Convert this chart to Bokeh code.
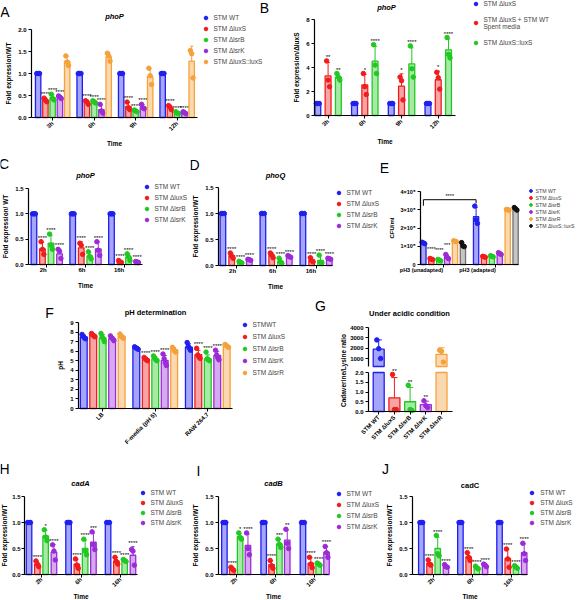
import numpy as np
from math import pi
from bokeh.plotting import figure
from bokeh.models import (Range1d, FixedTicker, Legend, LegendItem, Label, LinearAxis,
                          NumeralTickFormatter)
from bokeh.layouts import column, row
from bokeh.embed import file_html
from bokeh.resources import INLINE
from bokeh.core.properties import value

FONT = "Liberation Sans"
BLUE = "#1f1fef"
RED = "#f01c1c"
GREEN = "#22c822"
PURPLE = "#9b2bd6"
ORANGE = "#f6a13a"
GREY = "#707070"
BLACK = "#111111"

# ---------------- data ----------------
A_groups = ["3h", "6h", "9h", "12h"]
A_series = ["STM WT", "STM ΔluxS", "STM ΔlsrB", "STM ΔlsrK", "STM ΔluxS::luxS"]
A_means = [[1.00, 1.00, 1.00, 1.00],
           [0.40, 0.35, 0.25, 0.23],
           [0.45, 0.36, 0.15, 0.11],
           [0.46, 0.18, 0.24, 0.11],
           [1.28, 1.38, 0.93, 1.28]]
A_points = [[[1.0, 1.0, 1.0], [1.0, 1.0, 1.0], [1.0, 1.0, 1.0], [1.0, 1.0, 1.0]],
            [[0.44, 0.40, 0.36], [0.38, 0.36, 0.30], [0.35, 0.22, 0.18], [0.27, 0.24, 0.18]],
            [[0.53, 0.43, 0.40], [0.38, 0.36, 0.33], [0.17, 0.15, 0.13], [0.13, 0.10, 0.09]],
            [[0.49, 0.46, 0.43], [0.30, 0.15, 0.10], [0.30, 0.22, 0.20], [0.13, 0.11, 0.09]],
            [[1.40, 1.26, 1.18], [1.46, 1.40, 1.28], [1.12, 0.95, 0.75], [1.52, 1.45, 0.90]]]
A_stars = [["", "", "", ""], ["****"] * 4, ["****"] * 4, ["****"] * 4, ["", "", "", ""]]

B_groups = ["3h", "6h", "9h", "12h"]
B_series = ["STM ΔluxS", "STM ΔluxS + STM WT\nSpent media", "STM ΔluxS::luxS"]
B_means = [[1.0, 1.0, 1.0, 1.0],
           [3.30, 2.55, 2.45, 2.98],
           [3.20, 4.53, 4.30, 5.47]]
B_points = [[[1.0, 1.0, 1.0], [1.0, 1.0, 1.0], [1.0, 1.0, 1.0], [1.0, 1.0, 1.0]],
            [[4.55, 2.95, 2.40], [3.50, 2.40, 1.75], [3.20, 2.90, 1.30], [3.60, 3.15, 2.20]],
            [[3.50, 3.20, 2.95], [5.90, 4.20, 3.50], [5.80, 3.90, 3.20], [6.50, 5.10, 4.80]]]
B_stars = [["", "", "", ""], ["**", "*", "*", "*"], ["**", "****", "****", "****"]]

T_groups = ["2h", "6h", "16h"]
T_series = ["STM WT", "STM ΔluxS", "STM ΔlsrB", "STM ΔlsrK"]
WT3 = [[1.0, 1.0, 1.0], [1.0, 1.0, 1.0], [1.0, 1.0, 1.0]]

C_means = [[1.0, 1.0, 1.0], [0.31, 0.33, 0.06], [0.42, 0.17, 0.15], [0.21, 0.31, 0.05]]
C_points = [WT3,
            [[0.45, 0.30, 0.20], [0.42, 0.38, 0.20], [0.08, 0.05, 0.04]],
            [[0.60, 0.38, 0.30], [0.25, 0.16, 0.11], [0.21, 0.15, 0.08]],
            [[0.30, 0.26, 0.12], [0.45, 0.28, 0.18], [0.06, 0.05, 0.04]]]
C_stars = [["", "", ""], ["****"] * 3, ["****"] * 3, ["****"] * 3]

D_means = [[1.0, 1.0, 1.0], [0.19, 0.20, 0.11], [0.065, 0.08, 0.10], [0.11, 0.17, 0.13]]
D_points = [WT3,
            [[0.24, 0.18, 0.14], [0.24, 0.20, 0.15], [0.15, 0.09, 0.07]],
            [[0.08, 0.06, 0.05], [0.14, 0.07, 0.04], [0.20, 0.06, 0.05]],
            [[0.12, 0.11, 0.10], [0.19, 0.17, 0.16], [0.14, 0.13, 0.12]]]
D_stars = [["", "", ""], ["****"] * 3, ["****"] * 3, ["****"] * 3]

E_groups = ["pH3 (unadapted)", "pH3 (adapted)"]
E_series = ["STM WT", "STM ΔluxS", "STM ΔlsrB", "STM ΔlsrK", "STM ΔlsrR", "STM ΔluxS::luxS"]
E_means = [[1.18e8, 2.62e8], [0.30e8, 0.42e8], [0.24e8, 0.45e8],
           [0.42e8, 0.60e8], [1.27e8, 3.00e8], [1.06e8, 3.05e8]]
E_points = [[[1.22e8, 1.18e8, 1.14e8], [3.20e8, 2.45e8, 2.25e8]],
            [[0.33e8, 0.29e8, 0.27e8], [0.45e8, 0.42e8, 0.40e8]],
            [[0.28e8, 0.24e8, 0.21e8], [0.48e8, 0.45e8, 0.42e8]],
            [[0.55e8, 0.40e8, 0.32e8], [0.65e8, 0.60e8, 0.55e8]],
            [[1.30e8, 1.27e8, 1.25e8], [3.02e8, 3.00e8, 2.98e8]],
            [[1.20e8, 1.02e8, 0.98e8], [3.12e8, 3.05e8, 2.98e8]]]
E_stars = [["", ""], ["****", ""], ["****", ""], ["***", ""], ["", ""], ["", ""]]
E_bracket_star = "****"

F_groups = ["LB", "F-media (pH 5)", "RAW 264.7"]
F_series = ["STMWT", "STM ΔluxS", "STM ΔlsrB", "STM ΔlsrK", "STM ΔlsrR"]
F_means = [[7.49, 6.33, 6.43], [7.67, 5.20, 5.63], [7.38, 5.20, 5.20],
           [7.31, 5.03, 5.55], [7.56, 6.15, 6.54]]
F_points = [[[7.75, 7.55, 7.40, 7.30], [6.45, 6.35, 6.30, 6.20], [6.90, 6.50, 6.30, 6.10]],
            [[7.85, 7.70, 7.60, 7.50], [5.35, 5.20, 5.10, 5.00], [6.30, 5.60, 5.40, 5.25]],
            [[7.85, 7.50, 7.30, 7.00], [5.50, 5.30, 5.10, 5.00], [5.90, 5.20, 5.10, 5.00]],
            [[7.60, 7.40, 7.30, 7.10], [5.70, 5.20, 4.80, 4.50], [6.10, 5.60, 5.30, 5.10]],
            [[7.80, 7.55, 7.45, 7.35], [6.40, 6.20, 6.00, 5.90], [6.70, 6.60, 6.50, 6.40]]]
F_stars = [["", "", ""], ["", "****", "****"], ["", "****", "****"], ["", "****", "****"], ["", "", ""]]

G_cats = ["STM WT", "STM ΔluxS", "STM ΔlsrB", "STM ΔlsrK", "STM ΔlsrR"]
G_means = [1900.0, 0.70, 0.50, 0.35, 1400.0]
G_points = [[2800.0, 1950.0, 1000.0], [1.90, 0.10, 0.10], [1.35, 0.10, 0.05],
            [0.55, 0.30, 0.20], [1800.0, 1700.0, 650.0]]
G_stars = ["", "**", "**", "**", ""]

H_means = [[1.0, 1.0, 1.0], [0.20, 0.20, 0.26], [0.74, 0.50, 0.27], [0.43, 0.62, 0.37]]
H_points = [WT3,
            [[0.26, 0.20, 0.15], [0.30, 0.18, 0.12], [0.33, 0.25, 0.20]],
            [[0.86, 0.72, 0.65], [0.68, 0.45, 0.38], [0.29, 0.27, 0.25]],
            [[0.57, 0.45, 0.28], [0.82, 0.57, 0.48], [0.48, 0.45, 0.18]]]
H_stars = [["", "", ""], ["****", "****", "****"], ["*", "****", "****"], ["****", "***", "****"]]

I_means = [[1.0, 1.0, 1.0], [0.11, 0.19, 0.22], [0.73, 0.59, 0.20], [0.56, 0.66, 0.43]]
I_points = [WT3,
            [[0.14, 0.11, 0.08], [0.27, 0.17, 0.12], [0.33, 0.20, 0.13]],
            [[0.80, 0.71, 0.68], [0.68, 0.58, 0.52], [0.22, 0.20, 0.18]],
            [[0.80, 0.50, 0.38], [0.87, 0.60, 0.50], [0.54, 0.42, 0.33]]]
I_stars = [["", "", ""], ["****", "****", "****"], ["*", "***", "****"], ["****", "**", "****"]]

J_means = [[1.0, 1.0, 1.0], [0.22, 0.34, 0.31], [0.50, 0.13, 0.14], [0.16, 0.18, 0.42]]
J_points = [WT3,
            [[0.28, 0.20, 0.18], [0.42, 0.33, 0.27], [0.49, 0.30, 0.14]],
            [[0.75, 0.40, 0.36], [0.16, 0.13, 0.11], [0.17, 0.14, 0.12]],
            [[0.19, 0.15, 0.14], [0.20, 0.18, 0.15], [0.60, 0.40, 0.27]]]
J_stars = [["", "", ""], ["****"] * 3, ["****"] * 3, ["****"] * 3]


# ---------------- helpers ----------------
def full_range(a, b, lo_px, hi_px, span_px):
    """range for the whole canvas, so that [a, b] covers span_px pixels"""
    k = span_px / (b - a)
    return (a - lo_px / k, b + hi_px / k)


def style_axis(ax, tick_fs="6px", lab_fs="6.5px", lstand=2, astand=3):
    ax.axis_line_color = "black"
    ax.axis_line_width = 1.2
    ax.major_tick_line_color = "black"
    ax.major_tick_line_width = 1.0
    ax.major_tick_out = 3
    ax.major_tick_in = 0
    ax.minor_tick_line_color = None
    ax.major_label_text_font = FONT
    ax.major_label_text_font_size = tick_fs
    ax.major_label_text_font_style = "bold"
    ax.major_label_text_color = "black"
    ax.major_label_standoff = lstand
    ax.axis_label_text_font = FONT
    ax.axis_label_text_font_size = lab_fs
    ax.axis_label_text_font_style = "bold"
    ax.axis_label_text_color = "black"
    ax.axis_label_standoff = astand


class Panel:
    def __init__(self, origin, size, dbox, xr, yr):
        ox, oy = origin
        w, h = size
        dx0, dy0, dx1, dy1 = dbox
        self.fb = (ox, oy, ox + w, oy + h)
        self.xr, self.yr, self.dbox = xr, yr, dbox
        xs = full_range(xr[0], xr[1], dx0 - ox, ox + w - dx1, dx1 - dx0)
        ys = full_range(yr[0], yr[1], oy + h - dy1, dy0 - oy, dy1 - dy0)
        p = figure(width=w, height=h, x_range=Range1d(*xs), y_range=Range1d(*ys),
                   min_border=0, min_border_left=0, min_border_right=0, min_border_top=0,
                   min_border_bottom=0, x_axis_location=None, y_axis_location=None,
                   output_backend="svg", toolbar_location=None, tools="")
        p.xgrid.visible = False
        p.ygrid.visible = False
        p.outline_line_color = None
        p.background_fill_color = "white"
        p.border_fill_color = "white"
        self.p = p

    def axes(self, xlabels, yticks, yfmt=None, ylabel=None, xlabel=None, rot=0.0,
             tick_fs="6px", lab_fs="6.5px", xtick_fs=None, xl_stand=2, xa_stand=3,
             yl_stand=2, ya_stand=3):
        xa = LinearAxis(fixed_location=self.yr[0], bounds=self.xr,
                        ticker=FixedTicker(ticks=list(range(len(xlabels)))))
        xa.major_label_overrides = {i: l for i, l in enumerate(xlabels)}
        xa.major_label_orientation = rot
        style_axis(xa, xtick_fs or tick_fs, lab_fs, xl_stand, xa_stand)
        if xlabel:
            xa.axis_label = xlabel
        self.p.add_layout(xa, "below")
        ya = LinearAxis(fixed_location=self.xr[0], bounds=self.yr,
                        ticker=FixedTicker(ticks=list(yticks)))
        if yfmt:
            ya.formatter = NumeralTickFormatter(format=yfmt)
        style_axis(ya, tick_fs, lab_fs, yl_stand, ya_stand)
        if ylabel:
            ya.axis_label = ylabel
        self.p.add_layout(ya, "left")
        return xa, ya

    def text(self, txt, ax, ay, size, style="normal", align="center", angle=0.0):
        fx0, fy0, fx1, fy1 = self.fb
        self.p.add_layout(Label(x=ax - fx0, y=fy1 - ay, x_units="screen", y_units="screen",
                                text=txt, text_font=FONT, text_font_size=size,
                                text_font_style=style, text_align=align,
                                text_baseline="middle", angle=angle, text_color="black"))

    def legend(self, rends, labels, mx, y0, pitch, fs="6.5px", gh=9, standoff=4):
        fx0, fy0, fx1, fy1 = self.fb
        gh = int(min(gh, round(pitch)))
        sp = int(round(pitch - gh))
        n = len(labels)
        H = n * gh + (n - 1) * sp
        top = y0 - gh / 2.0
        leg = Legend(items=[LegendItem(label=l, renderers=[r]) for l, r in zip(labels, rends)],
                     location=(mx - gh / 2.0 - fx0, fy1 - (top + H)),
                     orientation="vertical", glyph_width=gh, glyph_height=gh,
                     label_height=gh, spacing=sp, padding=0, margin=0,
                     border_line_color=None, background_fill_alpha=0,
                     label_text_font=FONT, label_text_font_size=fs, label_standoff=standoff)
        self.p.add_layout(leg)


def draw_groups(P, means, points, stars, colors, step, bw, pcolors=None, fills=None,
                star_fs="6px", pad_px=1.0, alpha=0.4):
    p = P.p
    fh = P.fb[3] - P.fb[1]
    pad = pad_px * (p.y_range.end - p.y_range.start) / fh
    n = len(means)
    rends = []
    for k in range(n):
        off = (k - (n - 1) / 2.0) * step
        xs = [g + off for g in range(len(means[k]))]
        col = colors[k]
        fcol = fills[k] if fills else col
        pcol = pcolors[k] if pcolors else col
        p.vbar(x=xs, top=means[k], bottom=0, width=bw, fill_color=fcol, fill_alpha=alpha,
               line_color=col, line_width=1.3)
        ups = []
        ex, ey0, ey1, cx0, cx1 = [], [], [], [], []
        for g, pts in enumerate(points[k]):
            s = float(np.std(pts, ddof=1))
            ups.append(means[k][g] + s)
            if s > 0:
                ex.append(xs[g]); ey0.append(means[k][g]); ey1.append(means[k][g] + s)
                cx0.append(xs[g] - bw * 0.3); cx1.append(xs[g] + bw * 0.3)
        if ex:
            p.segment(x0=ex, y0=ey0, x1=ex, y1=ey1, line_color=col, line_width=1)
            p.segment(x0=cx0, y0=ey1, x1=cx1, y1=ey1, line_color=col, line_width=1)
        px, py = [], []
        for g, pts in enumerate(points[k]):
            m = len(pts)
            for j, v in enumerate(pts):
                px.append(xs[g] + ((j - (m - 1) / 2.0) / max(m - 1, 1)) * bw * 0.5)
                py.append(v)
        r = p.scatter(px, py, size=4.5, color=pcol)
        rends.append(r)
        sx, sy, st = [], [], []
        for g in range(len(xs)):
            if stars[k][g]:
                sx.append(xs[g])
                sy.append(max(max(points[k][g]), ups[g]) + pad)
                st.append(stars[k][g])
        if sx:
            p.text(x=sx, y=sy, text=st, text_font=value(FONT), text_font_size=star_fs,
                   text_align="center", text_baseline="bottom", text_color="black")
    return rends


C5 = [BLUE, RED, GREEN, PURPLE, ORANGE]
C4 = [BLUE, RED, GREEN, PURPLE]

# ---------------- Panel A ----------------
A = Panel((0, 0), (282, 155), (31, 29, 197, 117), (-0.51, 3.49), (0, 2))
rA = draw_groups(A, A_means, A_points, A_stars, C5, 0.175, 0.13)
A.axes(A_groups, [0, 0.5, 1, 1.5, 2], "0.0", "Fold expression/WT", "Time", pi / 4)
A.legend(rA, A_series, 205, 17, 11)
A.text("A", 4.5, 11.5, "14px")
A.text("phoP", 114, 15.5, "7.5px", style="bold italic")
A.text("B", 264, 7, "14px")

# ---------------- Panel B ----------------
B = Panel((282, 0), (295, 155), (314, 19, 455, 115), (-0.37, 3.47), (0, 8))
rB = draw_groups(B, B_means, B_points, B_stars, [BLUE, RED, GREEN], 0.28, 0.16)
B.axes(B_groups, [0, 2, 4, 6, 8], None, "Fold expression/ΔluxS", "Time", pi / 4)
B.legend(rB, B_series, 475, 8, 17.5)
B.text("phoP", 386, 7, "7.5px", style="bold italic")

# ---------------- Panel C ----------------
C = Panel((0, 155), (190, 143), (28, 188, 142, 264), (-0.47, 2.47), (0, 1.5))
rC = draw_groups(C, C_means, C_points, C_stars, C4, 0.22, 0.145)
C.axes(T_groups, [0, 0.5, 1, 1.5], "0.0", "Fold expression/ WT", "Time", 0)
C.legend(rC, T_series, 146, 186, 11.4)
C.text("C", 3.5, 163, "14px")
C.text("phoP", 85, 175, "7.5px", style="bold italic")

# ---------------- Panel D ----------------
D = Panel((190, 155), (190, 143), (218, 187, 332, 265), (-0.44, 2.41), (0, 1.5))
rD = draw_groups(D, D_means, D_points, D_stars, C4, 0.22, 0.14)
D.axes(T_groups, [0, 0.5, 1, 1.5], "0.0", "Fold expression/WT", "Time", 0)
D.legend(rD, T_series, 338, 192.3, 10.9)
D.text("D", 194, 164, "14px")
D.text("phoQ", 275, 175, "7.5px", style="bold italic")

# ---------------- Panel E ----------------
E = Panel((380, 155), (197, 143), (420, 191, 518, 264), (-0.43, 1.43), (0, 4e8))
rE = draw_groups(E, E_means, E_points, E_stars, [BLUE, RED, GREEN, PURPLE, ORANGE, GREY],
                 0.15, 0.1, pcolors=[BLUE, RED, GREEN, PURPLE, ORANGE, BLACK],
                 star_fs="5.5px", pad_px=6)
xaE, yaE = E.axes(E_groups, [0, 1e8, 2e8, 3e8, 4e8], None, "CFU/ml", None, 0,
                  tick_fs="5.5px", lab_fs="6px", xtick_fs="5.5px")
yaE.major_label_overrides = {0: "0", 1e8: "1×10⁸", 2e8: "2×10⁸", 3e8: "3×10⁸", 4e8: "4×10⁸"}
wt_off = -2.5 * 0.15
E.p.line(x=[0 + wt_off, 0 + wt_off, 1 + wt_off, 1 + wt_off],
         y=[3.22e8, 3.55e8, 3.55e8, 3.35e8], line_color="black", line_width=1)
E.p.text(x=[0.5 + wt_off], y=[3.57e8], text=[E_bracket_star], text_font=value(FONT),
         text_font_size="5.5px", text_align="center", text_baseline="bottom")
E.legend(rE, E_series, 530, 190.7, 7, fs="5.2px", standoff=2)
E.text("E", 384, 167, "14px")

# ---------------- Panel F ----------------
F = Panel((0, 298), (300, 157), (78, 322, 232, 408), (-0.46, 2.47), (0, 9))
rF = draw_groups(F, F_means, F_points, F_stars, C5, 0.18, 0.13)
F.axes(F_groups, list(range(10)), None, "pH", None, pi / 4)
F.legend(rF, F_series, 244, 324, 12.1)
F.text("F", 49, 312, "14px")
F.text("pH determination", 155, 312, "7.5px", style="bold")

# ---------------- Panel G (broken axis) ----------------
G = Panel((300, 298), (277, 157), (368, 372, 452, 411), (-0.65, 4.7), (0, 2))
pg = G.p
TOP_BASE = 225
BREAK = 2.0
# upper segment: 4000 at y=327 px, 1000 at y=358 px
top_k = (358 - 327) / 3000.0
pg.extra_y_ranges = {"top": Range1d(4000 - (455 - 327) / top_k, 4000 + (327 - 298) / top_k)}
xaG, yaG = G.axes(G_cats, [0, 0.5, 1, 1.5, 2], "0.0", None, None, pi / 4)
ax_top = LinearAxis(y_range_name="top", ticker=FixedTicker(ticks=[1000, 2000, 3000, 4000]),
                    bounds=(TOP_BASE, 4000), fixed_location=G.xr[0])
style_axis(ax_top)
pg.add_layout(ax_top, "left")
G_cols = [BLUE, RED, GREEN, PURPLE, ORANGE]
gbw = 0.7
for i in range(len(G_cats)):
    col = G_cols[i]
    m = G_means[i]
    pts = G_points[i]
    s = float(np.std(pts, ddof=1))
    big = m > BREAK
    pg.vbar(x=[i], top=[min(m, BREAK)], bottom=0, width=gbw, fill_color=col, fill_alpha=0.4,
            line_color=col, line_width=1.3)
    rn = "top" if big else "default"
    if big:
        pg.vbar(x=[i], top=[m], bottom=TOP_BASE, width=gbw, fill_color=col, fill_alpha=0.4,
                line_color=col, line_width=1.3, y_range_name="top")
    pg.segment(x0=[i], y0=[m], x1=[i], y1=[m + s], line_color=col, line_width=1, y_range_name=rn)
    pg.segment(x0=[i - 0.2], y0=[m + s], x1=[i + 0.2], y1=[m + s], line_color=col,
               line_width=1, y_range_name=rn)
    lo = [v for v in pts if v <= BREAK]
    hi = [v for v in pts if v > BREAK]
    jit = [-0.12, 0.0, 0.12]
    if lo:
        pg.scatter([i + jit[j] for j in range(len(lo))], lo, size=4.5, color=col)
    if hi:
        pg.scatter([i + jit[j] for j in range(len(hi))], hi, size=4.5, color=col,
                   y_range_name="top")
    if G_stars[i]:
        pg.text(x=[i], y=[max(max(pts), m + s) + 0.03], text=[G_stars[i]], text_font=value(FONT),
                text_font_size="6px", text_align="center", text_baseline="bottom")
G.text("Cadaverine/Lysine ratio", 343, 370, "6.5px", style="bold", angle=pi / 2)
G.text("G", 320, 305, "14px")
G.text("Under acidic condition", 409, 313, "7.5px", style="bold")

# ---------------- Panels H, I, J ----------------
H = Panel((0, 455), (190, 145), (24, 496, 137, 574), (-0.43, 2.43), (0, 1.5))
rH = draw_groups(H, H_means, H_points, H_stars, C4, 0.21, 0.14)
H.axes(T_groups, [0, 0.5, 1, 1.5], "0.0", "Fold expression/WT", "Time", pi / 4,
       xl_stand=1, xa_stand=0, yl_stand=1, ya_stand=1)
H.legend(rH, T_series, 142, 492.7, 10.4)
H.text("H", 4, 468, "14px")
H.text("cadA", 80, 483, "7.5px", style="bold italic")

I = Panel((190, 455), (190, 145), (218, 496, 328, 574), (-0.45, 2.35), (0, 1.5))
rI = draw_groups(I, I_means, I_points, I_stars, C4, 0.2, 0.14)
I.axes(T_groups, [0, 0.5, 1, 1.5], "0.0", "Fold expression/WT", "Time", pi / 4,
       xl_stand=1, xa_stand=0)
I.legend(rI, T_series, 338, 493.3, 11.1)
I.text("I", 198, 470, "14px")
I.text("cadB", 273, 483, "7.5px", style="bold italic")

J = Panel((380, 455), (197, 145), (412, 496, 527, 574), (-0.54, 2.4), (0, 1.5))
rJ = draw_groups(J, J_means, J_points, J_stars, C4, 0.21, 0.14)
J.axes(T_groups, [0, 0.5, 1, 1.5], "0.0", "Fold expression/WT", "Time", pi / 4,
       xl_stand=1, xa_stand=0)
J.legend(rJ, T_series, 531.7, 492.3, 10.1)
J.text("J", 385, 468, "14px")
J.text("cadC", 469.5, 485, "7.5px", style="bold")

layout = column(row(A.p, B.p), row(C.p, D.p, E.p), row(F.p, G.p), row(H.p, I.p, J.p))
open("out.html", "w").write(file_html(layout, INLINE))
